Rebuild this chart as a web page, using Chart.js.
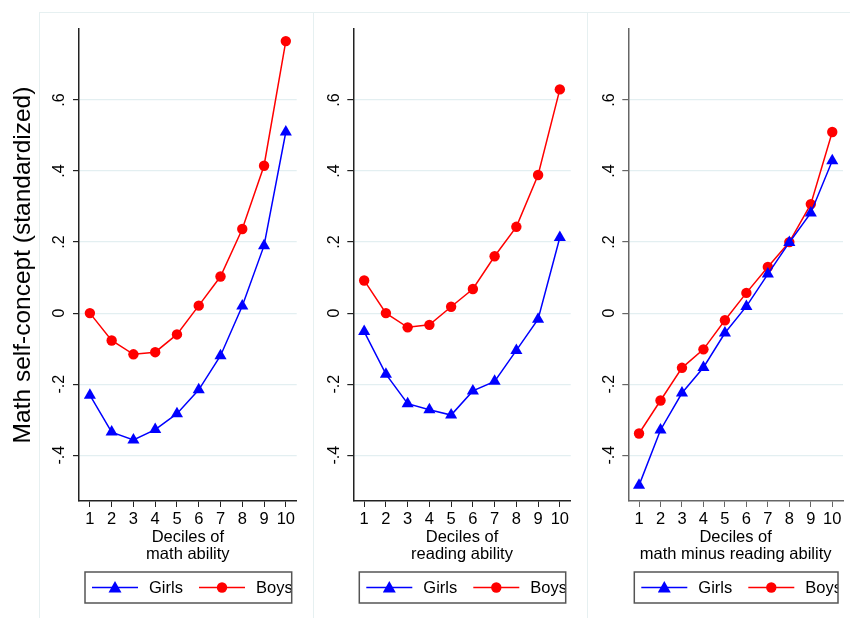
<!DOCTYPE html>
<html>
<head>
<meta charset="utf-8">
<script src="https://cdn.jsdelivr.net/npm/chart.js@4.4.0/dist/chart.umd.min.js"></script>
<style>
  body { margin: 0; background: #fff; }
  #wrap { position: relative; width: 850px; height: 618px; overflow: hidden; font-family: "Liberation Sans", Arial, sans-serif; }
  .frame { position: absolute; top: 12px; height: 640px; border: 1px solid #e6f0f1; box-sizing: border-box; }
  canvas { position: absolute; top: 0; }
</style>
</head>
<body>
<div id="wrap">
  <div class="frame" style="left:39px;width:275px"></div>
  <div class="frame" style="left:313px;width:275px"></div>
  <div class="frame" style="left:587px;width:290px"></div>
  <canvas id="c1" width="313" height="618" style="left:0px"></canvas>
  <canvas id="c2" width="274" height="618" style="left:313px"></canvas>
  <canvas id="c3" width="263" height="618" style="left:587px"></canvas>
</div>
<script>
// данные
const deciles = ["1", "2", "3", "4", "5", "6", "7", "8", "9", "10"];
const yTicks = [-0.4, -0.2, 0, 0.2, 0.4, 0.6];
const yTickLabels = ["-.4", "-.2", "0", ".2", ".4", ".6"];

const girlsMath = [-0.231, -0.335, -0.357, -0.328, -0.283, -0.216, -0.12, 0.02, 0.19, 0.51];
const boysMath = [0.0, -0.077, -0.116, -0.11, -0.06, 0.021, 0.103, 0.237, 0.415, 0.766];

const girlsReading = [-0.052, -0.172, -0.255, -0.272, -0.287, -0.219, -0.192, -0.105, -0.017, 0.213];
const boysReading = [0.092, 0.0, -0.04, -0.033, 0.018, 0.068, 0.16, 0.243, 0.389, 0.63];

const girlsDiff = [-0.485, -0.329, -0.225, -0.153, -0.056, 0.019, 0.11, 0.199, 0.282, 0.429];
const boysDiff = [-0.339, -0.246, -0.154, -0.102, -0.02, 0.057, 0.13, 0.2, 0.307, 0.51];

const FONT = "'Liberation Sans', Arial, sans-serif";
const BLUE = "#0000ff";
const RED = "#ff0000";

// подписи оси Y (повёрнутые) и легенда в рамке
const panelPlugin = {
  id: "panelPlugin",
  afterDraw(chart) {
    const ctx = chart.ctx;
    const area = chart.chartArea;
    const y = chart.scales.y;
    ctx.save();
    ctx.fillStyle = "#000";
    ctx.font = "16px " + FONT;
    ctx.textAlign = "center";
    ctx.textBaseline = "middle";
    yTicks.forEach((v, i) => {
      ctx.save();
      ctx.translate(area.left - 19, y.getPixelForValue(v));
      ctx.rotate(-Math.PI / 2);
      ctx.fillText(yTickLabels[i], 0, 0);
      ctx.restore();
    });

    // легенда
    const bx = area.left + 6;
    const bw = area.right - 5 - bx;
    const by = 572;
    const bh = 31;
    ctx.fillStyle = "#fff";
    ctx.fillRect(bx, by, bw, bh);
    ctx.save();
    ctx.beginPath();
    ctx.rect(bx, by, bw, bh);
    ctx.clip();
    const my = by + bh / 2;
    const items = chart.data.datasets;
    const offs = [7, 114];
    ctx.font = "16.5px " + FONT;
    ctx.textAlign = "left";
    items.forEach((ds, i) => {
      const x0 = bx + offs[i];
      ctx.strokeStyle = ds.borderColor;
      ctx.lineWidth = 1.5;
      ctx.beginPath();
      ctx.moveTo(x0, my);
      ctx.lineTo(x0 + 46, my);
      ctx.stroke();
      ctx.fillStyle = ds.borderColor;
      ctx.beginPath();
      if (ds.pointStyle === "triangle") {
        ctx.moveTo(x0 + 23, my - 6.5);
        ctx.lineTo(x0 + 29.5, my + 5);
        ctx.lineTo(x0 + 16.5, my + 5);
        ctx.closePath();
      } else {
        ctx.arc(x0 + 23, my, 5.2, 0, Math.PI * 2);
      }
      ctx.fill();
      ctx.fillStyle = "#000";
      ctx.fillText(ds.label, x0 + 57, my + 1);
    });
    ctx.restore();
    ctx.strokeStyle = "#555";
    ctx.lineWidth = 1.5;
    ctx.strokeRect(bx, by, bw, bh);
    ctx.restore();
  },
};

function makeChart(id, girls, boys, xTitle, yWidth, padRight, showYTitle, axisColor) {
  return new Chart(document.getElementById(id), {
    type: "line",
    data: {
      labels: deciles,
      datasets: [
        {
          label: "Girls",
          data: girls,
          borderColor: BLUE,
          backgroundColor: BLUE,
          borderWidth: 1.5,
          pointStyle: "triangle",
          pointRadius: 7,
          pointBorderWidth: 0,
          tension: 0,
        },
        {
          label: "Boys",
          data: boys,
          borderColor: RED,
          backgroundColor: RED,
          borderWidth: 1.5,
          pointStyle: "circle",
          pointRadius: 5.2,
          pointBorderWidth: 0,
          tension: 0,
        },
      ],
    },
    options: {
      responsive: false,
      animation: false,
      layout: { padding: { left: 0, right: padRight, top: 29, bottom: 55 } },
      plugins: { legend: { display: false }, tooltip: { enabled: false } },
      scales: {
        x: {
          type: "category",
          offset: true,
          grid: { offset: false, drawOnChartArea: false, drawTicks: true, tickLength: 6, color: axisColor },
          border: { display: true, color: axisColor, width: 1.5 },
          ticks: { color: "#000", font: { size: 16.5, family: FONT }, padding: 3, maxRotation: 0, autoSkip: false },
          title: {
            display: true,
            text: xTitle,
            color: "#000",
            font: { size: 16.5, family: FONT, lineHeight: 1.05 },
            padding: { top: 0, bottom: 0 },
          },
          afterFit(scale) { scale.height = 62; },
        },
        y: {
          min: -0.529,
          max: 0.8,
          afterBuildTicks(scale) { scale.ticks = yTicks.map((v) => ({ value: v })); },
          grid: { color: "#e3eff1", lineWidth: 1.2, tickColor: axisColor, tickLength: 6, drawTicks: true },
          border: { display: true, color: axisColor, width: 1.5 },
          ticks: { display: false },
          title: {
            display: true && showYTitle,
            text: "Math self-concept (standardized)",
            color: "#000",
            font: { size: 24.5, family: FONT },
            padding: { top: 9, bottom: 0 },
          },
          afterFit(scale) { scale.width = yWidth; },
        },
      },
    },
    plugins: [panelPlugin],
  });
}

makeChart("c1", girlsMath, boysMath, ["Deciles of", "math ability"], 79, 16.3, true, "#222");
makeChart("c2", girlsReading, boysReading, ["Deciles of", "reading ability"], 40.3, 16.3, false, "#222");
makeChart("c3", girlsDiff, boysDiff, ["Deciles of", "math minus reading ability"], 41.3, 5, false, "#666");
</script>
</body>
</html>
